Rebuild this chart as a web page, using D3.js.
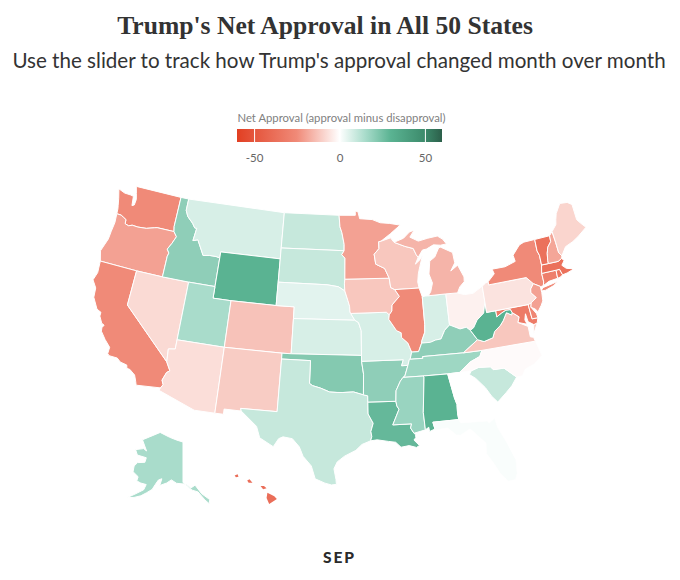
<!DOCTYPE html>
<html>
<head>
<meta charset="utf-8">
<script src="https://cdn.jsdelivr.net/npm/d3@7"></script>
<style>
  html, body { margin: 0; background: #fff; }
  svg { display: block; }
</style>
</head>
<body>
<div id="chart"></div>
<script>
const stateCodes = ['WA','OR','CA','NV','ID','MT','WY','UT','CO','AZ','NM','ND','SD','NE','KS','OK','TX','LA','AR','MO','IA','MN','WI','IL','IN','OH','KY','TN','MS','AL','GA','FL','SC','NC','VA','WV','MD','DE','PA','NY','NJ','CT','RI','MA','VT','NH','ME','MI','AK','HI'];
const netApproval = [-25,-20,-25,-8,20,7,30,15,-13,-7,-11,10,10,5,7,22,10,28,20,7,-12,-20,-12,-25,7,-3,20,17,18,30,0,1,10,-1,-12,30,-32,-27,-6,-25,-20,-30,-35,-37,-37,-19,-9,-16,15,-38];

// state outlines as lon,lat, rings split with |
const stateOutlines = [
"-124.73,48.38 -123.9,48.17 -123.1,48.15 -122.75,48.1 -122.6,47.3 -122.35,47.4 -122.3,47.9 -122.5,48.4 -122.76,49 -117.03,49 -117.04,46.42 -116.92,45.99 -118.98,46 -119.3,45.93 -120.2,45.72 -121.2,45.65 -121.9,45.68 -122.3,45.55 -122.76,45.65 -122.8,46 -123.2,46.15 -123.5,46.26 -124.05,46.27 -124.1,46.7 -124.2,47 -124.4,47.6",
"-124.05,46.27 -123.5,46.26 -123.2,46.15 -122.8,46 -122.76,45.65 -122.3,45.55 -121.9,45.68 -121.2,45.65 -120.2,45.72 -119.3,45.93 -118.98,46 -116.92,45.99 -116.5,45.6 -116.85,44.95 -117.22,44.4 -116.93,44.1 -117.03,43.8 -117.03,42 -120,42 -124.21,42 -124.55,42.84 -124.1,44 -124.05,44.7 -123.95,45.5",
"-124.21,42 -120,42 -120,39 -114.63,35 -114.14,34.3 -114.43,34.1 -114.72,33.4 -114.52,33.03 -114.72,32.72 -117.12,32.53 -117.25,32.85 -117.5,33.35 -118.1,33.73 -118.4,33.75 -118.5,34.03 -119.2,34.15 -119.6,34.42 -120.47,34.45 -120.65,34.6 -120.63,35.15 -121.3,35.7 -121.9,36.3 -121.95,36.6 -121.8,36.85 -122.1,36.96 -122.5,37.5 -122.5,37.83 -123,38 -123.7,38.9 -123.8,39.7 -124.35,40.3 -124.1,41",
"-120,42 -117.03,42 -114.04,42 -114.04,37 -114.04,36.2 -114.74,36.1 -114.63,35 -120,39",
"-117.03,42 -117.03,43.8 -116.93,44.1 -117.22,44.4 -116.85,44.95 -116.5,45.6 -116.92,45.99 -117.04,46.42 -117.03,49 -116.05,49 -116.05,48 -115.7,47.5 -114.95,47 -114.6,46.65 -114.35,46.65 -114.5,45.55 -113.95,45.7 -113.45,45.05 -113,44.45 -112.3,44.55 -111.5,44.55 -111.05,44.48 -111.05,42 -114.04,42",
"-116.05,49 -104.05,49 -104.05,45.94 -104.05,45 -111.05,45 -111.05,44.48 -111.5,44.55 -112.3,44.55 -113,44.45 -113.45,45.05 -113.95,45.7 -114.5,45.55 -114.35,46.65 -114.6,46.65 -114.95,47 -115.7,47.5 -116.05,48",
"-111.05,45 -104.05,45 -104.05,43 -104.05,41 -109.05,41 -111.05,41 -111.05,42",
"-114.04,42 -111.05,42 -111.05,41 -109.05,41 -109.05,37 -114.04,37",
"-109.05,41 -104.05,41 -102.05,41 -102.05,40 -102.05,37 -103,37 -109.05,37",
"-114.74,36.1 -114.04,36.2 -114.04,37 -109.05,37 -109.05,31.33 -111.07,31.33 -114.81,32.49 -114.72,32.72 -114.52,33.03 -114.72,33.4 -114.43,34.1 -114.14,34.3 -114.63,35",
"-109.05,37 -103,37 -103,36.5 -103.04,32 -106.62,32 -106.53,31.78 -108.21,31.78 -108.21,31.33 -109.05,31.33",
"-104.05,49 -97.23,49 -97.1,48 -96.85,47.5 -96.56,46.5 -96.56,45.94 -104.05,45.94",
"-104.05,45.94 -96.56,45.94 -96.85,45.6 -96.45,45.3 -96.45,43.5 -96.5,43.1 -96.45,42.5 -97.2,42.85 -98.5,43 -104.05,43",
"-104.05,43 -98.5,43 -97.2,42.85 -96.45,42.5 -96.1,41.7 -95.9,41.2 -95.85,40.7 -95.77,40.58 -95.31,40 -102.05,40 -102.05,41 -104.05,41",
"-102.05,40 -95.31,40 -94.9,39.8 -94.61,39.1 -94.62,37 -102.05,37",
"-103,37 -102.05,37 -94.62,37 -94.62,36.5 -94.43,35.4 -94.48,33.64 -95.5,33.9 -96.6,33.85 -97.2,33.85 -97.95,33.88 -98.9,34.2 -99.7,34.38 -100,34.56 -100,36.5 -103,36.5",
"-103,36.5 -100,36.5 -100,34.56 -99.7,34.38 -98.9,34.2 -97.95,33.88 -97.2,33.85 -96.6,33.85 -95.5,33.9 -94.48,33.64 -94.04,33.55 -94.04,33.02 -94.04,32 -93.55,31.2 -93.8,30.5 -93.72,30.05 -93.85,29.7 -94.7,29.4 -95.3,28.9 -96.4,28.4 -97.1,27.9 -97.4,27.3 -97.2,26.4 -97.15,25.96 -97.6,25.9 -98.2,26.05 -99.1,26.4 -99.5,27.5 -100.3,28.3 -100.7,29.1 -101.4,29.77 -102.3,29.88 -102.7,29.7 -103.15,28.98 -104.5,29.65 -104.9,30.6 -106.53,31.78 -106.62,32 -103.04,32",
"-94.04,33.02 -91.17,33 -91.1,32.6 -90.9,32.3 -91.6,31 -89.73,31 -89.85,30.65 -89.55,30.18 -89.4,30.05 -89.4,29.8 -89.6,29.6 -89.1,29.1 -89.4,28.95 -90.1,29.15 -90.9,29.05 -91.4,29.5 -92.1,29.6 -93.2,29.77 -93.85,29.7 -93.72,30.05 -93.8,30.5 -93.55,31.2 -94.04,32",
"-94.62,36.5 -90.15,36.5 -90.37,36 -89.7,36 -90.1,35.1 -90.3,35 -90.6,34.7 -91.1,33.9 -91.17,33 -94.04,33.02 -94.04,33.55 -94.48,33.64 -94.43,35.4",
"-95.77,40.58 -91.73,40.61 -91.42,40.38 -91.5,40 -90.7,39 -90.2,38.8 -90.2,38.4 -89.55,37.9 -89.2,37.1 -89.42,36.5 -89.5,36.5 -89.7,36 -90.37,36 -90.15,36.5 -94.62,36.5 -94.62,37 -94.61,39.1 -94.9,39.8 -95.31,40",
"-96.45,43.5 -91.22,43.5 -91.1,42.7 -90.64,42.5 -90.15,41.9 -91.05,41.2 -91.1,40.7 -91.42,40.38 -91.73,40.61 -95.77,40.58 -95.85,40.7 -95.9,41.2 -96.1,41.7 -96.45,42.5 -96.5,43.1",
"-97.23,49 -95.15,49 -95.15,49.38 -94.8,49.3 -94.6,48.7 -93,48.6 -92,48.3 -90.8,48.2 -89.5,48 -90.8,47.3 -92,46.7 -92.29,46.66 -92.29,46.07 -92.9,45.6 -92.75,44.75 -91.7,44.35 -91.22,43.5 -96.45,43.5 -96.45,45.3 -96.85,45.6 -96.56,45.94 -96.56,46.5 -96.85,47.5 -97.1,48",
"-92.29,46.66 -92,46.7 -90.8,46.95 -90.4,46.55 -89.1,46.14 -88.1,45.9 -87.8,45.35 -87.6,45.1 -88,44.55 -87.4,44.9 -87.05,45.25 -87.5,44.3 -87.75,43.7 -87.9,43 -87.8,42.49 -90.64,42.5 -91.1,42.7 -91.22,43.5 -91.7,44.35 -92.75,44.75 -92.9,45.6 -92.29,46.07",
"-90.64,42.5 -87.8,42.49 -87.53,41.72 -87.53,39.35 -87.6,38.7 -88,38 -88.05,37.8 -88.45,37.1 -89.2,37.1 -89.55,37.9 -90.2,38.4 -90.2,38.8 -90.7,39 -91.5,40 -91.42,40.38 -91.1,40.7 -91.05,41.2 -90.15,41.9",
"-87.53,41.72 -87.2,41.76 -86.82,41.76 -84.8,41.76 -84.8,39.1 -85.4,38.7 -85.9,38 -86.5,37.95 -87.1,37.8 -88.05,37.8 -88,38 -87.6,38.7 -87.53,39.35",
"-84.8,41.76 -83.45,41.72 -82.7,41.5 -81.7,41.5 -80.52,41.98 -80.52,40.64 -80.85,39.7 -81.7,39.2 -82.2,38.6 -82.6,38.42 -83,38.73 -83.7,38.65 -84.8,39.1",
"-88.05,37.8 -87.1,37.8 -86.5,37.95 -85.9,38 -85.4,38.7 -84.8,39.1 -83.7,38.65 -83,38.73 -82.6,38.42 -81.97,37.54 -83.68,36.6 -88.07,36.65 -88.05,36.5 -89.42,36.5 -89.2,37.1 -88.45,37.1",
"-89.7,36 -89.5,36.5 -89.42,36.5 -88.05,36.5 -88.07,36.65 -83.68,36.6 -81.68,36.59 -82,36.1 -83.1,35.75 -84.32,34.99 -85.6,34.98 -88.2,35 -90.3,35 -90.1,35.1",
"-90.3,35 -88.2,35 -88.1,34.9 -88.47,31.9 -88.4,30.4 -89.55,30.18 -89.85,30.65 -89.73,31 -91.6,31 -90.9,32.3 -91.1,32.6 -91.17,33 -91.1,33.9 -90.6,34.7",
"-88.2,35 -85.6,34.98 -85.18,32.87 -85,32.3 -85.05,31.55 -85,31 -87.6,31 -87.45,30.4 -88,30.23 -88.05,30.6 -88.4,30.4 -88.47,31.9 -88.1,34.9",
"-85.6,34.98 -84.32,34.99 -83.1,35 -83.35,34.7 -82.75,34.3 -81.9,33.4 -81.4,32.6 -80.88,32.03 -81.2,31.5 -81.45,30.72 -82.05,30.36 -82.2,30.57 -84.86,30.7 -85,31 -85.05,31.55 -85,32.3 -85.18,32.87",
"-87.6,31 -85,31 -84.86,30.7 -82.2,30.57 -82.05,30.36 -81.45,30.72 -81.3,29.9 -80.6,28.4 -80.05,26.9 -80.15,25.7 -80.4,25.2 -81.1,25.15 -81.75,26 -82.2,26.9 -82.75,27.8 -82.65,28.7 -83.4,29.5 -84,30.1 -85,29.65 -85.4,29.7 -86.2,30.4 -87.45,30.3 -87.45,30.4",
"-83.1,35 -82.3,35.2 -81.05,35.1 -80.8,34.82 -79.67,34.8 -78.55,33.86 -79.2,33.2 -79.9,32.7 -80.88,32.03 -81.4,32.6 -81.9,33.4 -82.75,34.3 -83.35,34.7",
"-84.32,34.99 -83.1,35.75 -82,36.1 -81.68,36.59 -75.87,36.55 -75.5,35.25 -76.5,34.65 -77.5,34.4 -77.95,33.87 -78.55,33.86 -79.67,34.8 -80.8,34.82 -81.05,35.1 -82.3,35.2 -83.1,35",
"-83.68,36.6 -81.97,37.54 -81.3,37.3 -80.3,37.5 -80,38 -79.3,38.4 -78.87,38.77 -78.35,39.4 -77.83,39.13 -77.72,39.32 -77.05,38.85 -77.3,38.4 -76.3,37.9 -76.3,37 -75.97,36.9 -75.87,36.55 -81.68,36.59|-75.65,37.95 -75.25,38.03 -75.9,37.15",
"-82.6,38.42 -82.2,38.6 -81.7,39.2 -80.85,39.7 -80.52,40.64 -80.52,39.72 -79.48,39.72 -79.48,39.2 -78.9,39.45 -78.35,39.63 -77.83,39.6 -77.72,39.32 -77.83,39.13 -78.35,39.4 -78.87,38.77 -79.3,38.4 -80,38 -80.3,37.5 -81.3,37.3 -81.97,37.54",
"-79.48,39.72 -75.79,39.72 -75.7,38.46 -75.05,38.45 -75.25,38.03 -75.65,37.95 -76.2,38.3 -76.3,39 -76.5,38.5 -76.35,38.1 -77.3,38.4 -77.05,38.85 -77.72,39.32 -77.83,39.6 -78.35,39.63 -78.9,39.45 -79.48,39.2",
"-75.79,39.72 -75.42,39.8 -75.55,39.45 -75.1,38.8 -75.05,38.45 -75.7,38.46",
"-80.52,41.98 -80.08,42.2 -79.76,42.27 -79.76,42 -75.35,42 -74.7,41.36 -75.13,40.97 -75.2,40.65 -74.72,40.15 -75.42,39.8 -75.79,39.72 -80.52,39.72",
"-79.76,42.27 -78.9,42.85 -79.05,43.27 -77.5,43.27 -76.2,43.55 -76.3,44.1 -75.3,44.85 -74.7,45 -73.35,45.01 -73.4,44 -73.25,43.6 -73.28,42.75 -73.5,42.05 -73.5,41.3 -73.65,41 -73.9,40.98 -74,41 -74.7,41.36 -75.35,42 -79.76,42|-74.03,40.6 -73.75,40.85 -72.6,40.98 -71.9,41.07 -72.5,40.8 -73.5,40.58",
"-74.7,41.36 -74,41 -74,40.45 -74.1,39.75 -74.4,39.4 -74.9,38.93 -75.1,39.2 -75.55,39.45 -75.42,39.8 -74.72,40.15 -75.2,40.65 -75.13,40.97",
"-73.5,42.05 -71.8,42.02 -71.85,41.32 -72.9,41.25 -73.65,41 -73.5,41.3",
"-71.8,42.02 -71.38,42.02 -71.2,41.5 -71.5,41.37 -71.85,41.32",
"-73.5,42.05 -73.28,42.75 -72.46,42.73 -71.3,42.7 -70.82,42.87 -70.6,42.65 -71,42.3 -70.6,41.95 -70,41.8 -70.05,42.05 -69.95,41.7 -70.65,41.55 -71.2,41.5 -71.38,42.02 -71.8,42.02",
"-73.35,45.01 -71.5,45.01 -71.55,44.5 -72.05,44.1 -72.3,43.6 -72.45,43 -72.46,42.73 -73.28,42.75 -73.25,43.6 -73.4,44",
"-71.5,45.01 -71.08,45.3 -71,44.3 -70.97,43.4 -70.7,43.08 -70.82,42.87 -71.3,42.7 -72.46,42.73 -72.45,43 -72.3,43.6 -72.05,44.1 -71.55,44.5",
"-71.08,45.3 -70.4,45.8 -70.25,46.2 -70,46.7 -69.23,47.46 -68.3,47.36 -67.8,47.07 -67.8,45.7 -67.45,45.3 -67,44.85 -68.2,44.3 -69,44 -70,43.75 -70.7,43.08 -70.97,43.4 -71,44.3",
"-86.82,41.76 -86.5,42.1 -86.2,42.8 -86.5,43.6 -86.25,44.7 -85.6,45 -85,45.75 -84.75,45.78 -83.4,45.2 -83.3,44.3 -83.9,43.65 -83,44.07 -82.45,43 -82.5,42.6 -83.1,42.2 -83.45,41.72 -84.8,41.76|-90.4,46.55 -89.2,46.85 -88.4,47.35 -87.8,47.47 -88.4,46.9 -87.4,46.5 -86.2,46.67 -85,46.77 -84.4,46.45 -84,46 -84.75,45.95 -85.6,46.05 -86.5,45.75 -87,45.7 -87.6,45.1 -87.8,45.35 -88.1,45.9 -89.1,46.14",
"-141,69.6 -141,60.3 -139.5,59.7 -137,58.5 -134.5,58 -132,56 -130.5,55 -130,55.9 -133,57.5 -135.5,59.6 -137.5,59 -139.5,59.9 -144,60.1 -146.5,60.8 -148.5,60 -151.5,59.2 -151,60.8 -152.5,60.4 -153.5,59.3 -154.5,58 -156.5,57 -158.5,56 -161,55.2 -163.5,54.7 -161,56 -158,57.5 -157.5,58.8 -160,58.8 -162,59 -162,60 -165,60.7 -165.5,62 -164.5,63 -161,63.6 -161,64.7 -166,64.6 -168,65.6 -164,66.5 -162,66.2 -166.5,68.3 -163,69.5 -157,71.2 -150,70.5 -145,70",
"-155.9,20.2 -155.1,19.8 -154.8,19.5 -155.7,18.95 -156,19.6|-156.7,20.95 -156.3,20.95 -156,20.7 -156.4,20.57|-158.27,21.55 -158,21.7 -157.65,21.3 -158.1,21.3|-159.75,22.1 -159.4,22.23 -159.3,21.95 -159.6,21.9"
];

const legendTicks = [-50, 0, 50];
const legendDomain = [-60, 60];
const colorStops = [-60, -50, -25, 0, 15, 30, 50, 60];
const colorRange = ['#e23f22', '#e5553c', '#f08a78', '#ffffff', '#a9dccb', '#5ab392', '#3c8a6b', '#2c5f4a'];

const width = 680, height = 580;

const color = d3.scaleLinear().domain(colorStops).range(colorRange);

const svg = d3.select('#chart').append('svg')
  .attr('width', width)
  .attr('height', height);

// d3.geo wants clockwise rings, fix whichever way they were written
function toFeature(outline, i) {
  const rings = outline.split('|').map(ring => {
    const pts = ring.split(' ').map(p => p.split(',').map(Number));
    pts.push(pts[0]);
    if (d3.geoArea({type: 'Polygon', coordinates: [pts]}) > 2 * Math.PI) pts.reverse();
    return [pts];
  });
  return {type: 'Feature', id: stateCodes[i], properties: {value: netApproval[i]},
    geometry: {type: 'MultiPolygon', coordinates: rings}};
}
const states = stateOutlines.map(toFeature);

// lower 48 come out a little flatter in the original, and tighter in the east
const squash = d3.geoTransform({
  point(x, y) {
    const px = x > 335 ? 335 + (x - 335) * 0.968 : x;
    this.stream.point(px, 348 + (y - 348) * 0.96);
  }
});
const lower48 = d3.geoAlbers().scale(695).translate([343.5, 335]);
const lower48Path = d3.geoPath({stream: s => lower48.stream(squash.stream(s))});

const alaskaPath = d3.geoPath(d3.geoConicEqualArea()
  .rotate([141, 0]).center([0, 65]).parallels([55, 65])
  .scale(250).translate([183, 462]));
const hawaiiPath = d3.geoPath(d3.geoConicEqualArea()
  .rotate([157, 0]).center([0, 20.5]).parallels([8, 18])
  .scale(520).translate([258, 490]));

function statePath(d) {
  if (d.id === 'AK') return alaskaPath(d);
  if (d.id === 'HI') return hawaiiPath(d);
  return lower48Path(d);
}

svg.append('g')
  .selectAll('path')
  .data(states)
  .join('path')
  .attr('d', statePath)
  .attr('fill', d => color(d.properties.value))
  .attr('stroke', '#fff')
  .attr('stroke-width', d => d.id === 'HI' ? 0 : 1)
  .attr('stroke-linejoin', 'round');

// titles
svg.append('text')
  .attr('x', 325).attr('y', 34)
  .attr('text-anchor', 'middle')
  .style('font', 'bold 25.6px "Liberation Serif"')
  .attr('fill', '#333')
  .text("Trump's Net Approval in All 50 States");

svg.append('text')
  .attr('x', 339).attr('y', 68)
  .attr('text-anchor', 'middle')
  .style('font', '20.6px Lato')
  .attr('fill', '#333')
  .text("Use the slider to track how Trump's approval changed month over month");

// legend
const legendX = d3.scaleLinear().domain(legendDomain).range([237, 442]);
const legendY = 129, legendH = 13;

const grad = svg.append('defs').append('linearGradient').attr('id', 'ramp');
grad.selectAll('stop')
  .data(colorStops)
  .join('stop')
  .attr('offset', d => (d - legendDomain[0]) / (legendDomain[1] - legendDomain[0]))
  .attr('stop-color', d => color(d));

const legend = svg.append('g');
legend.append('text')
  .attr('x', 341.5).attr('y', 122)
  .attr('text-anchor', 'middle')
  .style('font', '11.3px Lato')
  .attr('fill', '#808080')
  .text('Net Approval (approval minus disapproval)');

legend.append('rect')
  .attr('x', legendX.range()[0]).attr('y', legendY)
  .attr('width', legendX.range()[1] - legendX.range()[0])
  .attr('height', legendH)
  .attr('fill', 'url(#ramp)');

const legendAxis = d3.axisBottom(legendX)
  .tickValues(legendTicks)
  .tickSize(legendH)
  .tickPadding(12)
  .tickFormat(String);

const axisG = legend.append('g')
  .attr('transform', `translate(0,${legendY})`)
  .call(legendAxis);
axisG.select('.domain').remove();
axisG.selectAll('line').attr('stroke', '#fff').attr('stroke-width', 1);
axisG.selectAll('text').style('font', '11.5px Lato').attr('fill', '#666');

// month label under the slider
svg.append('text')
  .attr('x', 339.5).attr('y', 563)
  .attr('text-anchor', 'middle')
  .style('font', '900 15.5px Lato')
  .style('letter-spacing', '2px')
  .attr('fill', '#2b2b2b')
  .text('SEP');
</script>
</body>
</html>
